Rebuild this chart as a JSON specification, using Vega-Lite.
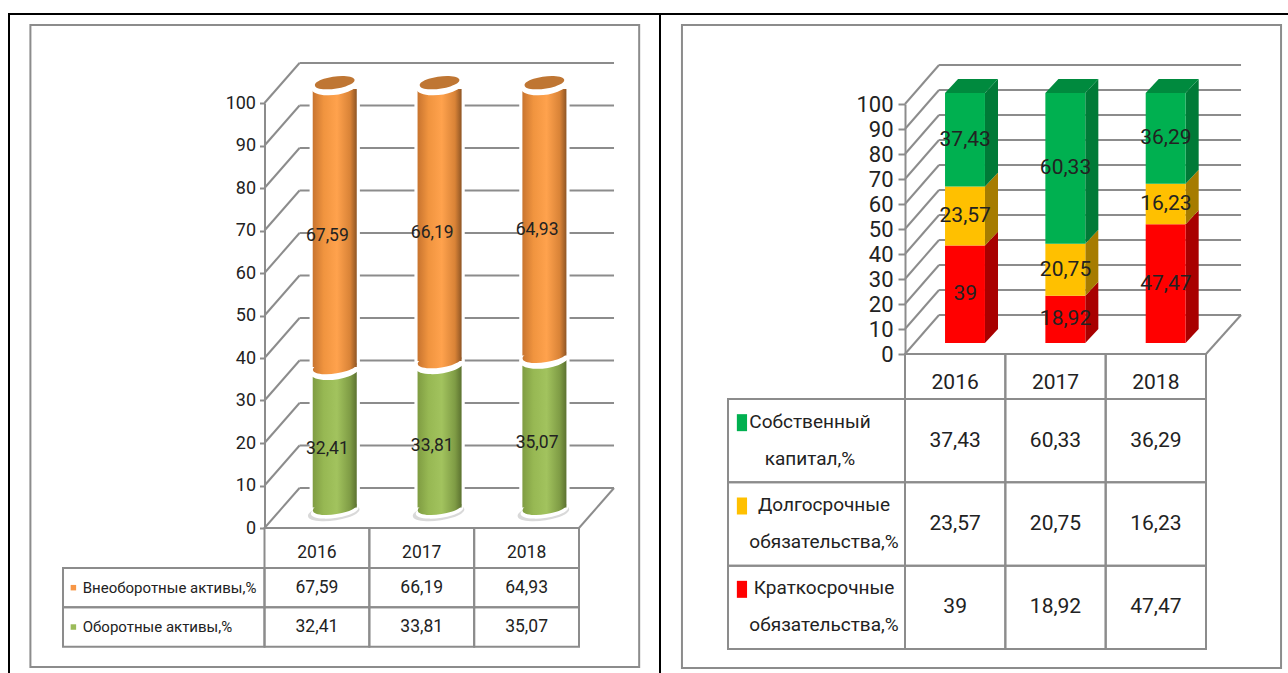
{
  "$schema": "https://vega.github.io/schema/vega-lite/v6.json",
  "padding": {"left": 8, "top": 13, "right": 0, "bottom": 0},
  "autosize": {"type": "pad"},
  "background": "white",
  "spacing": 0,
  "bounds": "flush",
  "resolve": {"scale": {"color": "independent"}},
  "config": {
    "view": {"stroke": "#000000", "strokeWidth": 2},
    "axisX": {"disable": true},
    "text": {"font": "Roboto", "fill": "#222222"},
    "legend": {"disable": true}
  },
  "datasets": {
    "assets": [
      {"year": 2016, "series": "Оборотные активы,%", "value": 32.41},
      {"year": 2017, "series": "Оборотные активы,%", "value": 33.81},
      {"year": 2018, "series": "Оборотные активы,%", "value": 35.07},
      {"year": 2016, "series": "Внеоборотные активы,%", "value": 67.59},
      {"year": 2017, "series": "Внеоборотные активы,%", "value": 66.19},
      {"year": 2018, "series": "Внеоборотные активы,%", "value": 64.93}
    ],
    "funding": [
      {"year": 2016, "series": "Краткосрочные обязательства,%", "value": 39},
      {"year": 2017, "series": "Краткосрочные обязательства,%", "value": 18.92},
      {"year": 2018, "series": "Краткосрочные обязательства,%", "value": 47.47},
      {"year": 2016, "series": "Долгосрочные обязательства,%", "value": 23.57},
      {"year": 2017, "series": "Долгосрочные обязательства,%", "value": 20.75},
      {"year": 2018, "series": "Долгосрочные обязательства,%", "value": 16.23},
      {"year": 2016, "series": "Собственный капитал,%", "value": 37.43},
      {"year": 2017, "series": "Собственный капитал,%", "value": 60.33},
      {"year": 2018, "series": "Собственный капитал,%", "value": 36.29}
    ],
    "fundingLabels": [
      {"series": "Собственный капитал,%", "label": "Собственный\nкапитал,%"},
      {"series": "Долгосрочные обязательства,%", "label": "Долгосрочные\nобязательства,%"},
      {"series": "Краткосрочные обязательства,%", "label": "Краткосрочные\nобязательства,%"}
    ],
    "assetLabels": [
      {"series": "Внеоборотные активы,%"},
      {"series": "Оборотные активы,%"}
    ],
    "ticks": [
      {"tick": 0}, {"tick": 10}, {"tick": 20}, {"tick": 30}, {"tick": 40}, {"tick": 50},
      {"tick": 60}, {"tick": 70}, {"tick": 80}, {"tick": 90}, {"tick": 100}
    ],
    "years": [{"year": 2016}, {"year": 2017}, {"year": 2018}]
  },
  "hconcat": [
    {
      "width": 651,
      "height": 660,
      "resolve": {"scale": {"y": "independent"}},
      "layer": [
        {
          "layer": [
            {
              "data": {"values": [{}]},
              "mark": {"type": "rect", "fill": "white", "stroke": "#8c8c8c", "strokeWidth": 2},
              "encoding": {
                "x": {"datum": -2.233, "scale": {"domain": [0, 3], "range": [255.5, 570], "nice": false, "zero": false}},
                "x2": {"datum": 3.574},
                "y": {"datum": 118.35, "scale": {"domain": [0, 100], "range": [514, 89], "nice": false, "zero": false}, "axis": {"title": null}},
                "y2": {"datum": -32.7}
              }
            },
            {
              "data": {"name": "ticks"},
              "transform": [{"calculate": "datum.tick + 9.41", "as": "back"}],
              "layer": [
                {
                  "mark": {"type": "rule", "color": "#8c8c8c", "strokeWidth": 2},
                  "encoding": {
                    "x": {"datum": 0},
                    "x2": {"datum": 0.334},
                    "y": {
                      "field": "tick",
                      "type": "quantitative",
                      "scale": {"domain": [0, 100], "range": [514, 89], "nice": false, "zero": false},
                      "axis": {
                        "title": null,
                        "offset": -255.5,
                        "values": [0, 10, 20, 30, 40, 50, 60, 70, 80, 90, 100],
                        "zindex": 1,
                        "grid": false,
                        "domainColor": "#8c8c8c",
                        "domainWidth": 2,
                        "tickColor": "#8c8c8c",
                        "tickWidth": 2,
                        "tickSize": 5,
                        "labelFont": "Roboto",
                        "labelFontSize": 18,
                        "labelColor": "#222222",
                        "labelPadding": 4
                      }
                    },
                    "y2": {"field": "back"}
                  }
                },
                {
                  "mark": {"type": "rule", "color": "#8c8c8c", "strokeWidth": 2},
                  "encoding": {
                    "x": {"datum": 0.334},
                    "x2": {"datum": 3.334},
                    "y": {"field": "back", "type": "quantitative", "axis": {"title": null}}
                  }
                }
              ]
            },
            {
              "data": {"values": [{}]},
              "layer": [
                {
                  "mark": {"type": "rule", "color": "#8c8c8c", "strokeWidth": 2},
                  "encoding": {
                    "x": {"datum": 3},
                    "x2": {"datum": 3.334},
                    "y": {"datum": 0, "axis": {"title": null}},
                    "y2": {"datum": 9.41}
                  }
                },
                {
                  "mark": {"type": "rule", "color": "#8c8c8c", "strokeWidth": 2},
                  "encoding": {
                    "x": {"datum": 0},
                    "x2": {"datum": 3},
                    "y": {"datum": 0, "axis": {"title": null}}
                  }
                }
              ]
            },
            {
              "data": {"name": "assets"},
              "transform": [
                {"calculate": "indexof(['Оборотные активы,%', 'Внеоборотные активы,%'], datum.series)", "as": "rank"},
                {"stack": "value", "groupby": ["year"], "sort": [{"field": "rank"}], "as": ["lo", "hi"]},
                {"calculate": "datum.year - 2016", "as": "idx"},
                {"calculate": "datum.idx + 0.67", "as": "cx"},
                {"calculate": "datum.idx + 0.46", "as": "xl"},
                {"calculate": "datum.idx + 0.88", "as": "xr"},
                {"calculate": "datum.lo + 4.8", "as": "b"},
                {"calculate": "datum.hi + 4.8", "as": "t"},
                {"calculate": "replace(toString(datum.value), '.', ',')", "as": "txt"},
                {"calculate": "datum.idx + 0.6", "as": "tx"},
                {"calculate": "(datum.lo + datum.hi) / 2 + 2.5", "as": "ty"}
              ],
              "layer": [
                {
                  "transform": [{"calculate": "datum.xl - 0.03", "as": "hl"}, {"calculate": "datum.xr + 0.03", "as": "hr"}],
                  "mark": {"type": "rect", "fill": "white"},
                  "encoding": {
                    "x": {"field": "hl", "type": "quantitative"},
                    "x2": {"field": "hr"},
                    "y": {"field": "b", "type": "quantitative", "axis": {"title": null}},
                    "y2": {"field": "t"}
                  }
                },
                {
                  "transform": [{"filter": "datum.rank === 0"}],
                  "layer": [
                    {
                      "mark": {"type": "point", "filled": true, "fill": "#c9c9c9", "opacity": 0.7, "size": 2700, "xOffset": -1, "yOffset": 5, "shape": "M-0.99 0.139A1 0.3 -8 1 0 0.99 -0.139A1 0.3 -8 1 0 -0.99 0.139Z"},
                      "encoding": {
                        "x": {"field": "cx", "type": "quantitative"},
                        "y": {"field": "b", "type": "quantitative", "axis": {"title": null}}
                      }
                    },
                    {
                      "mark": {"type": "point", "filled": true, "fill": "white", "opacity": 1, "size": 2304, "yOffset": 3, "shape": "M-0.99 0.139A1 0.3 -8 1 0 0.99 -0.139A1 0.3 -8 1 0 -0.99 0.139Z"},
                      "encoding": {
                        "x": {"field": "cx", "type": "quantitative"},
                        "y": {"field": "b", "type": "quantitative", "axis": {"title": null}}
                      }
                    },
                    {
                      "mark": {
                        "type": "point", "filled": true, "opacity": 1, "size": 1936,
                        "shape": "M-0.99 0.139A1 0.3 -8 1 0 0.99 -0.139A1 0.3 -8 1 0 -0.99 0.139Z",
                        "fill": {"gradient": "linear", "x1": 0, "y1": 0, "x2": 1, "y2": 0, "stops": [
                          {"offset": 0, "color": "#7f9c42"}, {"offset": 0.25, "color": "#97b853"}, {"offset": 0.55, "color": "#a2c35e"}, {"offset": 0.85, "color": "#7f9c45"}, {"offset": 1, "color": "#5c7230"}
                        ]}
                      },
                      "encoding": {
                        "x": {"field": "cx", "type": "quantitative"},
                        "y": {"field": "b", "type": "quantitative", "axis": {"title": null}}
                      }
                    },
                    {
                      "mark": {
                        "type": "rect",
                        "fill": {"gradient": "linear", "x1": 0, "y1": 0, "x2": 1, "y2": 0, "stops": [
                          {"offset": 0, "color": "#7f9c42"}, {"offset": 0.25, "color": "#97b853"}, {"offset": 0.55, "color": "#a2c35e"}, {"offset": 0.85, "color": "#7f9c45"}, {"offset": 1, "color": "#5c7230"}
                        ]}
                      },
                      "encoding": {
                        "x": {"field": "xl", "type": "quantitative"},
                        "x2": {"field": "xr"},
                        "y": {"field": "b", "type": "quantitative", "axis": {"title": null}},
                        "y2": {"field": "t"}
                      }
                    },
                    {
                      "mark": {"type": "point", "filled": true, "fill": "white", "opacity": 1, "size": 2500, "shape": "M-0.99 0.139A1 0.38 -8 1 0 0.99 -0.139A1 0.38 -8 1 0 -0.99 0.139Z"},
                      "encoding": {
                        "x": {"field": "cx", "type": "quantitative"},
                        "y": {"field": "t", "type": "quantitative", "axis": {"title": null}}
                      }
                    }
                  ]
                },
                {
                  "transform": [
                    {"filter": "datum.rank === 1"},
                    {"calculate": "datum.b + 0.7", "as": "bb"},
                    {"calculate": "datum.t - 1.5", "as": "tt"}
                  ],
                  "layer": [
                    {
                      "mark": {
                        "type": "point", "filled": true, "opacity": 1, "size": 1936,
                        "shape": "M-0.99 0.139A1 0.3 -8 1 0 0.99 -0.139A1 0.3 -8 1 0 -0.99 0.139Z",
                        "fill": {"gradient": "linear", "x1": 0, "y1": 0, "x2": 1, "y2": 0, "stops": [
                          {"offset": 0, "color": "#c8742f"}, {"offset": 0.25, "color": "#f0943f"}, {"offset": 0.55, "color": "#ffa24d"}, {"offset": 0.85, "color": "#d98337"}, {"offset": 1, "color": "#8f5524"}
                        ]}
                      },
                      "encoding": {
                        "x": {"field": "cx", "type": "quantitative"},
                        "y": {"field": "bb", "type": "quantitative", "axis": {"title": null}}
                      }
                    },
                    {
                      "mark": {
                        "type": "rect",
                        "fill": {"gradient": "linear", "x1": 0, "y1": 0, "x2": 1, "y2": 0, "stops": [
                          {"offset": 0, "color": "#c8742f"}, {"offset": 0.25, "color": "#f0943f"}, {"offset": 0.55, "color": "#ffa24d"}, {"offset": 0.85, "color": "#d98337"}, {"offset": 1, "color": "#8f5524"}
                        ]}
                      },
                      "encoding": {
                        "x": {"field": "xl", "type": "quantitative"},
                        "x2": {"field": "xr"},
                        "y": {"field": "bb", "type": "quantitative", "axis": {"title": null}},
                        "y2": {"field": "tt"}
                      }
                    },
                    {
                      "mark": {"type": "point", "filled": true, "fill": "white", "opacity": 1, "size": 2304, "yOffset": 2, "shape": "M-0.99 0.139A1 0.42 -8 1 0 0.99 -0.139A1 0.42 -8 1 0 -0.99 0.139Z"},
                      "encoding": {
                        "x": {"field": "cx", "type": "quantitative"},
                        "y": {"field": "t", "type": "quantitative", "axis": {"title": null}}
                      }
                    },
                    {
                      "mark": {"type": "point", "filled": true, "fill": "#bf7633", "opacity": 1, "size": 1600, "shape": "M-0.99 0.139A1 0.3 -8 1 0 0.99 -0.139A1 0.3 -8 1 0 -0.99 0.139Z"},
                      "encoding": {
                        "x": {"field": "cx", "type": "quantitative"},
                        "y": {"field": "t", "type": "quantitative", "axis": {"title": null}}
                      }
                    }
                  ]
                },
                {
                  "mark": {"type": "text", "fontSize": 17.5, "baseline": "middle"},
                  "encoding": {
                    "x": {"field": "tx", "type": "quantitative"},
                    "y": {"field": "ty", "type": "quantitative", "axis": {"title": null}},
                    "text": {"field": "txt"}
                  }
                }
              ]
            },
            {
              "data": {"name": "years"},
              "transform": [
                {"calculate": "datum.year - 2016", "as": "idx"},
                {"calculate": "datum.idx + 1", "as": "idx1"},
                {"calculate": "datum.idx + 0.5", "as": "mid"}
              ],
              "layer": [
                {
                  "mark": {"type": "rect", "fill": "transparent", "stroke": "#8c8c8c", "strokeWidth": 2},
                  "encoding": {
                    "x": {"field": "idx", "type": "quantitative"},
                    "x2": {"field": "idx1"},
                    "y": {"datum": 0, "axis": {"title": null}},
                    "y2": {"datum": -9.41}
                  }
                },
                {
                  "mark": {"type": "text", "fontSize": 17.5, "baseline": "middle"},
                  "encoding": {
                    "x": {"field": "mid", "type": "quantitative"},
                    "y": {"datum": -5.9, "axis": {"title": null}},
                    "text": {"field": "year", "type": "nominal"}
                  }
                }
              ]
            }
          ]
        },
        {
          "layer": [
            {
              "data": {"name": "assets"},
              "transform": [
                {"calculate": "datum.year - 2016", "as": "idx"},
                {"calculate": "datum.idx + 1", "as": "idx1"},
                {"calculate": "datum.idx + 0.5", "as": "mid"},
                {"calculate": "replace(toString(datum.value), '.', ',')", "as": "txt"}
              ],
              "layer": [
                {
                  "mark": {"type": "rect", "fill": "transparent", "stroke": "#8c8c8c", "strokeWidth": 2},
                  "encoding": {
                    "x": {"field": "idx", "type": "quantitative"},
                    "x2": {"field": "idx1"},
                    "y": {
                      "field": "series", "type": "nominal", "axis": null,
                      "scale": {"domain": ["Внеоборотные активы,%", "Оборотные активы,%"], "range": [554, 632.7], "paddingInner": 0, "paddingOuter": 0}
                    }
                  }
                },
                {
                  "mark": {"type": "text", "fontSize": 17.5, "baseline": "middle"},
                  "encoding": {
                    "x": {"field": "mid", "type": "quantitative"},
                    "y": {"field": "series", "type": "nominal", "axis": null},
                    "text": {"field": "txt"}
                  }
                }
              ]
            },
            {
              "data": {"name": "assetLabels"},
              "layer": [
                {
                  "mark": {"type": "rect", "fill": "transparent", "stroke": "#8c8c8c", "strokeWidth": 2},
                  "encoding": {
                    "x": {"datum": -1.922},
                    "x2": {"datum": 0},
                    "y": {"field": "series", "type": "nominal", "axis": null}
                  }
                },
                {
                  "mark": {"type": "text", "fontSize": 15, "baseline": "middle", "align": "left"},
                  "encoding": {
                    "x": {"datum": -1.734},
                    "y": {"field": "series", "type": "nominal", "axis": null},
                    "text": {"field": "series"}
                  }
                },
                {
                  "mark": {"type": "point", "filled": true, "opacity": 1, "shape": "square", "size": 30},
                  "encoding": {
                    "x": {"datum": -1.823},
                    "y": {"field": "series", "type": "nominal", "axis": null},
                    "color": {
                      "field": "series", "type": "nominal", "legend": null,
                      "scale": {"domain": ["Внеоборотные активы,%", "Оборотные активы,%"], "range": ["#f79646", "#9bbb59"]}
                    }
                  }
                }
              ]
            }
          ]
        }
      ]
    },
    {
      "width": 629,
      "height": 660,
      "resolve": {"scale": {"y": "independent"}},
      "layer": [
        {
          "layer": [
            {
              "data": {"values": [{}]},
              "mark": {"type": "rect", "fill": "white", "stroke": "#8c8c8c", "strokeWidth": 2},
              "encoding": {
                "x": {"datum": -2.223, "scale": {"domain": [0, 3], "range": [245, 546], "nice": false, "zero": false}},
                "x2": {"datum": 3.748},
                "y": {"datum": 131.6, "scale": {"domain": [0, 100], "range": [340, 90], "nice": false, "zero": false}, "axis": {"title": null}},
                "y2": {"datum": -125.6}
              }
            },
            {
              "data": {"name": "ticks"},
              "transform": [{"calculate": "datum.tick + 15.6", "as": "back"}],
              "layer": [
                {
                  "mark": {"type": "rule", "color": "#8c8c8c", "strokeWidth": 2},
                  "encoding": {
                    "x": {"datum": 0},
                    "x2": {"datum": 0.339},
                    "y": {
                      "field": "tick",
                      "type": "quantitative",
                      "scale": {"domain": [0, 100], "range": [340, 90], "nice": false, "zero": false},
                      "axis": {
                        "title": null,
                        "offset": -245,
                        "values": [0, 10, 20, 30, 40, 50, 60, 70, 80, 90, 100],
                        "zindex": 1,
                        "grid": false,
                        "domainColor": "#8c8c8c",
                        "domainWidth": 2,
                        "tickColor": "#8c8c8c",
                        "tickWidth": 2,
                        "tickSize": 7,
                        "labelFont": "Roboto",
                        "labelFontSize": 22,
                        "labelColor": "#222222",
                        "labelPadding": 5
                      }
                    },
                    "y2": {"field": "back"}
                  }
                },
                {
                  "mark": {"type": "rule", "color": "#8c8c8c", "strokeWidth": 2},
                  "encoding": {
                    "x": {"datum": 0.339},
                    "x2": {"datum": 3.349},
                    "y": {"field": "back", "type": "quantitative", "axis": {"title": null}}
                  }
                }
              ]
            },
            {
              "data": {"values": [{}]},
              "layer": [
                {
                  "mark": {"type": "rule", "color": "#8c8c8c", "strokeWidth": 2},
                  "encoding": {
                    "x": {"datum": 3},
                    "x2": {"datum": 3.349},
                    "y": {"datum": 0, "axis": {"title": null}},
                    "y2": {"datum": 15.6}
                  }
                },
                {
                  "mark": {"type": "rule", "color": "#8c8c8c", "strokeWidth": 2},
                  "encoding": {
                    "x": {"datum": 0},
                    "x2": {"datum": 3},
                    "y": {"datum": 0, "axis": {"title": null}}
                  }
                }
              ]
            },
            {
              "data": {"name": "funding"},
              "transform": [
                {"calculate": "indexof(['Краткосрочные обязательства,%', 'Долгосрочные обязательства,%', 'Собственный капитал,%'], datum.series)", "as": "rank"},
                {"stack": "value", "groupby": ["year"], "sort": [{"field": "rank"}], "as": ["lo", "hi"]},
                {"calculate": "datum.year - 2016", "as": "idx"},
                {"calculate": "datum.idx + 0.399", "as": "xl"},
                {"calculate": "datum.idx + 0.797", "as": "xr"},
                {"calculate": "datum.lo + 4.4", "as": "b"},
                {"calculate": "datum.hi + 4.4", "as": "t"},
                {"calculate": "replace(toString(datum.value), '.', ',')", "as": "txt"},
                {"calculate": "datum.idx + 0.6", "as": "tx"},
                {"calculate": "(datum.lo + datum.hi) / 2 + 4.4", "as": "ty"},
                {"calculate": "[0, 1]", "as": "v"}
              ],
              "layer": [
                {
                  "transform": [
                    {"flatten": ["v"]},
                    {"calculate": "datum.xr + datum.v * 0.13", "as": "sx"},
                    {"calculate": "datum.b + datum.v * 5.6", "as": "s0"},
                    {"calculate": "datum.t + datum.v * 5.6", "as": "s1"},
                    {"calculate": "datum.series + ' / бок'", "as": "face"}
                  ],
                  "mark": {"type": "area", "opacity": 1, "orient": "vertical"},
                  "encoding": {
                    "x": {"field": "sx", "type": "quantitative"},
                    "y": {"field": "s0", "type": "quantitative", "axis": {"title": null}},
                    "y2": {"field": "s1"},
                    "detail": {"field": "year", "type": "nominal"},
                    "color": {
                      "field": "face", "type": "nominal", "legend": null,
                      "scale": {
                        "domain": [
                          "Собственный капитал,%", "Долгосрочные обязательства,%", "Краткосрочные обязательства,%",
                          "Собственный капитал,% / бок", "Долгосрочные обязательства,% / бок", "Краткосрочные обязательства,% / бок",
                          "Собственный капитал,% / верх"
                        ],
                        "range": ["#00b050", "#ffc000", "#ff0000", "#007a37", "#a67c00", "#a80000", "#008a3e"]
                      }
                    }
                  }
                },
                {
                  "transform": [
                    {"filter": "datum.rank === 2"},
                    {"flatten": ["v"]},
                    {"calculate": "datum.xl + datum.v * 0.13", "as": "tl"},
                    {"calculate": "datum.xr + datum.v * 0.13", "as": "tr"},
                    {"calculate": "datum.t + datum.v * 5.6", "as": "ty2"},
                    {"calculate": "datum.series + ' / верх'", "as": "face"}
                  ],
                  "mark": {"type": "area", "opacity": 1, "orient": "horizontal"},
                  "encoding": {
                    "x": {"field": "tl", "type": "quantitative"},
                    "x2": {"field": "tr"},
                    "y": {"field": "ty2", "type": "quantitative", "axis": {"title": null}},
                    "detail": {"field": "year", "type": "nominal"},
                    "color": {"field": "face", "type": "nominal", "legend": null}
                  }
                },
                {
                  "mark": {"type": "rect"},
                  "encoding": {
                    "x": {"field": "xl", "type": "quantitative"},
                    "x2": {"field": "xr"},
                    "y": {"field": "b", "type": "quantitative", "axis": {"title": null}},
                    "y2": {"field": "t"},
                    "color": {"field": "series", "type": "nominal", "legend": null}
                  }
                },
                {
                  "mark": {"type": "text", "fontSize": 21, "baseline": "middle"},
                  "encoding": {
                    "x": {"field": "tx", "type": "quantitative"},
                    "y": {"field": "ty", "type": "quantitative", "axis": {"title": null}},
                    "text": {"field": "txt"}
                  }
                }
              ]
            },
            {
              "data": {"name": "years"},
              "transform": [
                {"calculate": "datum.year - 2016", "as": "idx"},
                {"calculate": "datum.idx + 1", "as": "idx1"},
                {"calculate": "datum.idx + 0.5", "as": "mid"}
              ],
              "layer": [
                {
                  "mark": {"type": "rect", "fill": "transparent", "stroke": "#8c8c8c", "strokeWidth": 2},
                  "encoding": {
                    "x": {"field": "idx", "type": "quantitative"},
                    "x2": {"field": "idx1"},
                    "y": {"datum": 0, "axis": {"title": null}},
                    "y2": {"datum": -18}
                  }
                },
                {
                  "mark": {"type": "text", "fontSize": 21, "baseline": "middle"},
                  "encoding": {
                    "x": {"field": "mid", "type": "quantitative"},
                    "y": {"datum": -11.6, "axis": {"title": null}},
                    "text": {"field": "year", "type": "nominal"}
                  }
                }
              ]
            }
          ]
        },
        {
          "layer": [
            {
              "data": {"name": "funding"},
              "transform": [
                {"calculate": "datum.year - 2016", "as": "idx"},
                {"calculate": "datum.idx + 1", "as": "idx1"},
                {"calculate": "datum.idx + 0.5", "as": "mid"},
                {"calculate": "replace(toString(datum.value), '.', ',')", "as": "txt"}
              ],
              "layer": [
                {
                  "mark": {"type": "rect", "fill": "transparent", "stroke": "#8c8c8c", "strokeWidth": 2},
                  "encoding": {
                    "x": {"field": "idx", "type": "quantitative"},
                    "x2": {"field": "idx1"},
                    "y": {
                      "field": "series", "type": "nominal", "axis": null,
                      "scale": {"domain": ["Собственный капитал,%", "Долгосрочные обязательства,%", "Краткосрочные обязательства,%"], "range": [385, 635], "paddingInner": 0, "paddingOuter": 0}
                    }
                  }
                },
                {
                  "mark": {"type": "text", "fontSize": 21, "baseline": "middle"},
                  "encoding": {
                    "x": {"field": "mid", "type": "quantitative"},
                    "y": {"field": "series", "type": "nominal", "axis": null},
                    "text": {"field": "txt"}
                  }
                }
              ]
            },
            {
              "data": {"name": "fundingLabels"},
              "transform": [
                {"calculate": "datum.series === 'Собственный капитал,%' ? -0.947 : -0.807", "as": "lx"}
              ],
              "layer": [
                {
                  "mark": {"type": "rect", "fill": "transparent", "stroke": "#8c8c8c", "strokeWidth": 2},
                  "encoding": {
                    "x": {"datum": -1.764},
                    "x2": {"datum": 0},
                    "y": {"field": "series", "type": "nominal", "axis": null}
                  }
                },
                {
                  "mark": {"type": "text", "fontSize": 19, "baseline": "middle", "lineBreak": "\n", "lineHeight": 37, "dy": -19},
                  "encoding": {
                    "x": {"field": "lx", "type": "quantitative"},
                    "y": {"field": "series", "type": "nominal", "axis": null},
                    "text": {"field": "label"}
                  }
                },
                {
                  "mark": {"type": "point", "filled": true, "opacity": 1, "size": 289, "yOffset": -18, "shape": "M-0.6 -1H0.6V1H-0.6Z"},
                  "encoding": {
                    "x": {"datum": -1.625},
                    "y": {"field": "series", "type": "nominal", "axis": null},
                    "color": {"field": "series", "type": "nominal", "legend": null}
                  }
                }
              ]
            }
          ]
        }
      ]
    }
  ]
}
